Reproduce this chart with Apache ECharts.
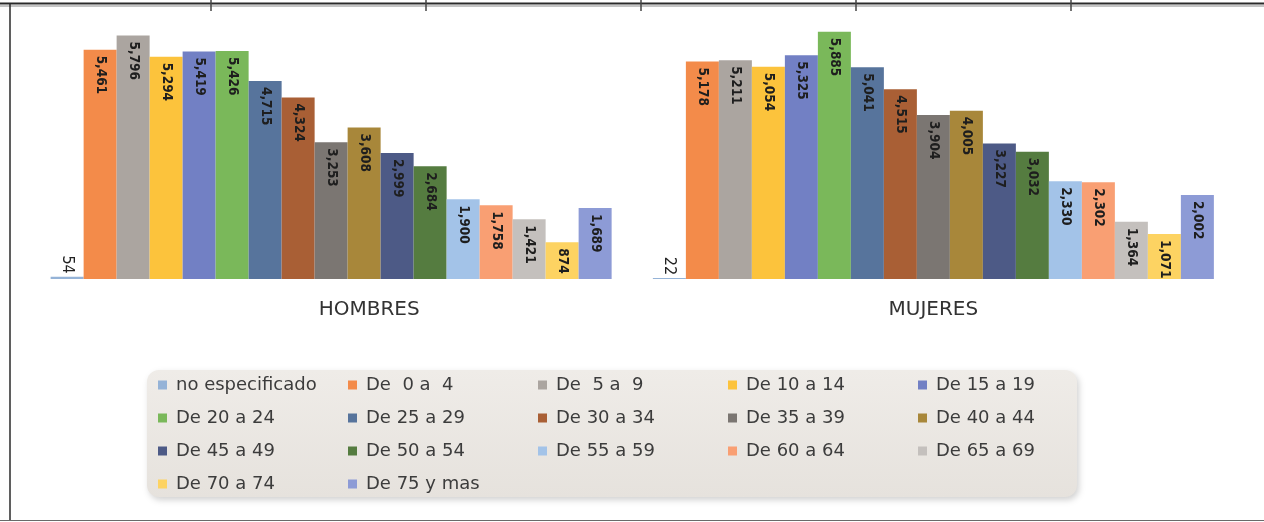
<!DOCTYPE html>
<html>
<head>
<meta charset="utf-8">
<script src="https://cdn.jsdelivr.net/npm/echarts@6/dist/echarts.min.js"></script>
<style>
html,body{margin:0;padding:0;background:#ffffff;}
#chart{width:1264px;height:522px;}
</style>
</head>
<body>
<div id="chart"></div>
<script>
// ---- data ----
const categories = ['HOMBRES', 'MUJERES'];
const seriesNames = ['no especificado', 'De  0 a  4', 'De  5 a  9', 'De 10 a 14', 'De 15 a 19',
  'De 20 a 24', 'De 25 a 29', 'De 30 a 34', 'De 35 a 39', 'De 40 a 44',
  'De 45 a 49', 'De 50 a 54', 'De 55 a 59', 'De 60 a 64', 'De 65 a 69',
  'De 70 a 74', 'De 75 y mas'];
const hombres = [54, 5461, 5796, 5294, 5419, 5426, 4715, 4324, 3253, 3608, 2999, 2684, 1900, 1758, 1421, 874, 1689];
const mujeres = [22, 5178, 5211, 5054, 5325, 5885, 5041, 4515, 3904, 4005, 3227, 3032, 2330, 2302, 1364, 1071, 2002];
const colors = ['#95b3d7', '#f38b4a', '#aba5a0', '#fcc33c', '#7280c4',
  '#7ab85a', '#57749c', '#a95f35', '#7b7672', '#a8873a',
  '#4d5a86', '#557c40', '#a3c3e8', '#f99f73', '#c4c0bd',
  '#fdd362', '#8d9bd6'];

const labelFont = "'DejaVu Sans Condensed', 'Liberation Sans Narrow', sans-serif";
const fmt = v => Number(v).toLocaleString('en-US');

const series = seriesNames.map((name, i) => {
  const first = i === 0;
  return {
    name: name,
    type: 'bar',
    barWidth: 33,
    barGap: '0%',
    itemStyle: { color: colors[i] },
    data: [hombres[i], mujeres[i]],
    label: first ? {
      show: true, position: 'top', distance: 3, rotate: -90,
      align: 'right', verticalAlign: 'middle',
      fontFamily: labelFont, fontSize: 16, color: '#222',
      formatter: p => fmt(p.value)
    } : {
      show: true, position: 'insideTop', distance: 6, rotate: -90,
      align: 'left', verticalAlign: 'middle',
      fontFamily: labelFont, fontSize: 13.5, fontWeight: 'bold', color: '#1e1e1e',
      formatter: p => fmt(p.value)
    }
  };
});

const chart = echarts.init(document.getElementById('chart'), null, { renderer: 'canvas' });
chart.setOption({
  animation: false,
  backgroundColor: '#ffffff',
  grid: { left: 30, right: 29.5, top: 27, bottom: 243, containLabel: false },
  xAxis: {
    type: 'category',
    data: categories,
    axisLine: { show: false },
    axisTick: { show: false },
    axisLabel: {
      margin: 21,
      formatter: v => v === 'HOMBRES' ? '{h|' + v + '}' : '{m|' + v + '}',
      rich: {
        h: { fontFamily: 'DejaVu Sans', fontSize: 20, color: '#333', padding: [0, 0, 0, 76] },
        m: { fontFamily: 'DejaVu Sans', fontSize: 20, color: '#333' }
      }
    }
  },
  yAxis: { type: 'value', min: 0, max: 6000, show: false, splitLine: { show: false } },
  legend: {
    data: seriesNames,
    orient: 'horizontal',
    left: 158,
    top: 375,
    width: 940,
    padding: 0,
    itemGap: 13,
    itemWidth: 9,
    itemHeight: 9,
    icon: 'rect',
    textStyle: {
      fontFamily: 'DejaVu Sans', fontSize: 18, color: '#3c3c3c',
      width: 159, lineHeight: 20, padding: [0, 0, 0, 4]
    },
    z: 5
  },
  graphic: [
    {
      type: 'rect', z: 1, silent: true,
      shape: { x: 147, y: 370, width: 930, height: 127, r: 12 },
      style: {
        fill: new echarts.graphic.LinearGradient(0, 0, 0, 1, [
          { offset: 0, color: '#efece8' }, { offset: 1, color: '#e6e2dd' }
        ]),
        shadowBlur: 6, shadowOffsetX: 2, shadowOffsetY: 3, shadowColor: 'rgba(0,0,0,0.18)'
      }
    },
    { type: 'line', z: 10, silent: true, shape: { x1: 0, y1: 3.5, x2: 1264, y2: 3.5 }, style: { stroke: '#2a2a2a', lineWidth: 2 } },
    { type: 'line', z: 10, silent: true, shape: { x1: 0, y1: 6, x2: 1264, y2: 6 }, style: { stroke: '#8a8a8a', lineWidth: 1 } },
    { type: 'line', z: 10, silent: true, shape: { x1: 10, y1: 4, x2: 10, y2: 521 }, style: { stroke: '#2a2a2a', lineWidth: 1.5 } },
    { type: 'line', z: 10, silent: true, shape: { x1: 0, y1: 520.5, x2: 1264, y2: 520.5 }, style: { stroke: '#6a6a6a', lineWidth: 1 } },
    { type: 'line', z: 10, silent: true, shape: { x1: 211, y1: 0, x2: 211, y2: 11 }, style: { stroke: '#444', lineWidth: 1.5 } },
    { type: 'line', z: 10, silent: true, shape: { x1: 426, y1: 0, x2: 426, y2: 11 }, style: { stroke: '#444', lineWidth: 1.5 } },
    { type: 'line', z: 10, silent: true, shape: { x1: 641, y1: 0, x2: 641, y2: 11 }, style: { stroke: '#444', lineWidth: 1.5 } },
    { type: 'line', z: 10, silent: true, shape: { x1: 856, y1: 0, x2: 856, y2: 11 }, style: { stroke: '#444', lineWidth: 1.5 } },
    { type: 'line', z: 10, silent: true, shape: { x1: 1071, y1: 0, x2: 1071, y2: 11 }, style: { stroke: '#444', lineWidth: 1.5 } }
  ],
  series: series
});
</script>
</body>
</html>
